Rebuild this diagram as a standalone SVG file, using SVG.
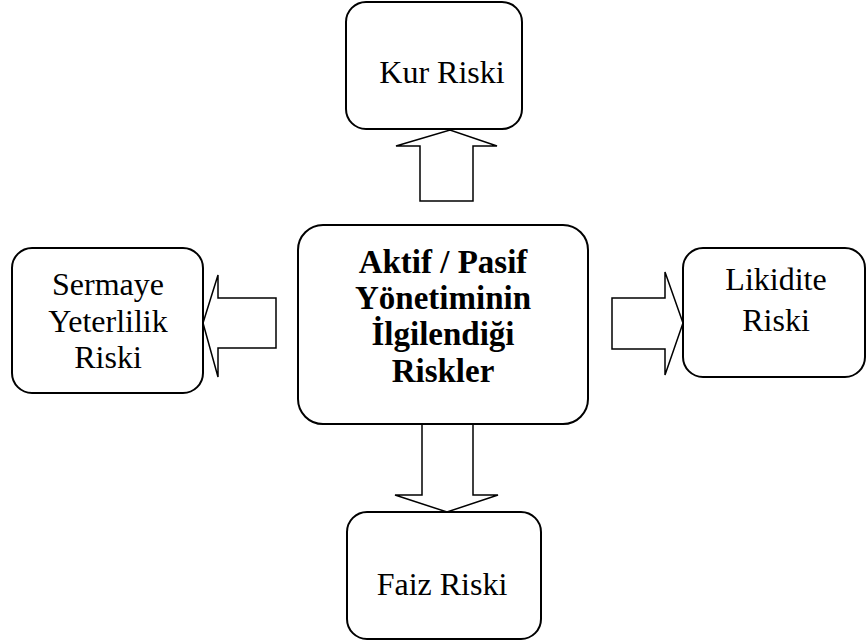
<svg xmlns="http://www.w3.org/2000/svg" width="866" height="643" viewBox="0 0 866 643">
  <style>
    .box { fill: #ffffff; stroke: #000000; stroke-width: 2; }
    .arrow { fill: #ffffff; stroke: #000000; stroke-width: 1.5; stroke-linejoin: miter; }
    .lbl { font-family: "Liberation Serif", "Times New Roman", serif; font-size: 32px; fill: #000000; text-anchor: middle; }
    .main { font-family: "Liberation Serif", "Times New Roman", serif; font-size: 33px; font-weight: bold; fill: #000000; text-anchor: middle; }
  </style>
  <rect width="866" height="643" fill="#ffffff"/>

  <g id="connectors">
    <!-- up: center to Kur Riski -->
    <polygon class="arrow" points="420,201 473,201 473,146 497,146 450,130 396,146 420,146"/>
    <!-- left: center to Sermaye Yeterlilik Riski -->
    <polygon class="arrow" points="276,298 276,348 218,348 218,377 203,323 218,275 218,298"/>
    <!-- right: center to Likidite Riski -->
    <polygon class="arrow" points="612,298 612,349 665,349 665,375 683,323 665,272 665,298"/>
    <!-- down: center to Faiz Riski -->
    <polygon class="arrow" points="422,403 473,403 473,495 498,495 447,512 395,495 422,495"/>
  </g>

  <g id="kur">
    <rect class="box" x="346" y="2" width="176" height="127" rx="20" ry="20"/>
    <text class="lbl" x="442" y="83">Kur Riski</text>
  </g>

  <g id="center">
    <rect class="box" x="298" y="225" width="290" height="199" rx="25" ry="25"/>
    <text class="main" x="443" y="273">Aktif / Pasif</text>
    <text class="main" x="443" y="309">Yönetiminin</text>
    <text class="main" x="443" y="345">İlgilendiği</text>
    <text class="main" x="443" y="382">Riskler</text>
  </g>

  <g id="sermaye">
    <rect class="box" x="12" y="248" width="191" height="145" rx="20" ry="20"/>
    <text class="lbl" x="108" y="295">Sermaye</text>
    <text class="lbl" x="108" y="332">Yeterlilik</text>
    <text class="lbl" x="108" y="368">Riski</text>
  </g>

  <g id="likidite">
    <rect class="box" x="683" y="248" width="182" height="129" rx="20" ry="20"/>
    <text class="lbl" x="776" y="290">Likidite</text>
    <text class="lbl" x="776" y="331">Riski</text>
  </g>

  <g id="faiz">
    <rect class="box" x="347" y="512" width="194" height="127" rx="20" ry="20"/>
    <text class="lbl" x="442" y="595">Faiz Riski</text>
  </g>
</svg>
